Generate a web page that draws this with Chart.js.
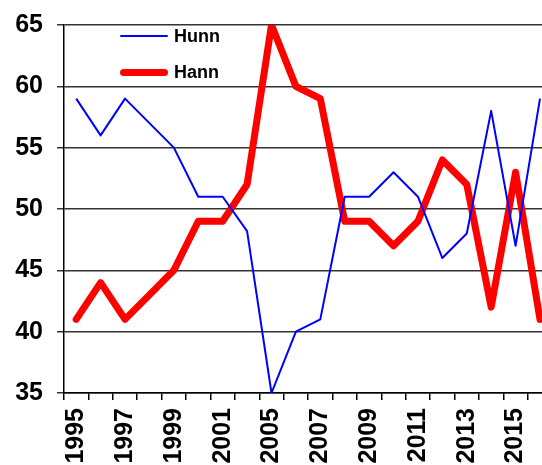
<!DOCTYPE html>
<html>
<head>
<meta charset="utf-8">
<script src="https://cdn.jsdelivr.net/npm/chart.js@4"></script>
<style>
  html, body { margin: 0; padding: 0; overflow: hidden; background: #fff; width: 542px; height: 465px; }
  #wrap { position: relative; width: 578px; height: 480px; }
  #legend { position: absolute; left: 0; top: 0; font-family: "Liberation Sans", Arial, sans-serif; font-weight: bold; font-size: 18px; color: #000; }
  .item { position: absolute; display: flex; align-items: center; white-space: nowrap; }
  .sw { display: inline-block; width: 48px; margin-right: 6px; }
</style>
</head>
<body>
<div id="wrap">
  <canvas id="c"></canvas>
  <div id="legend"></div>
</div>
<script>
const categories = ["1995","1996","1997","1998","1999","2000","2001","2003","2005","2006","2007","2008","2009","2010","2011","2012","2013","2014","2015","2016"];
const hunnValues = [59, 56, 59, 57, 55, 51, 51, 48.2, 35, 40, 41, 51, 51, 53, 51, 46, 48, 58, 47, 59];
const hannValues = [41, 44, 41, 43, 45, 49, 49, 52, 65, 60, 59, 49, 49, 47, 49, 54, 52, 42, 53, 41];
const seriesLabels = ["Hunn", "Hann"];
const yTicks = [35, 40, 45, 50, 55, 60, 65];

const FONT = "'Liberation Sans', Arial, sans-serif";

const chart = new Chart(document.getElementById('c'), {
  type: 'line',
  data: {
    labels: categories,
    datasets: [
      { label: seriesLabels[0], data: hunnValues, borderColor: '#0000FF', borderWidth: 2, pointRadius: 0, tension: 0, fill: false, borderJoinStyle: 'round' },
      { label: seriesLabels[1], data: hannValues, borderColor: '#FF0000', borderWidth: 7, pointRadius: 0, tension: 0, fill: false, borderJoinStyle: 'round', borderCapStyle: 'round' }
    ]
  },
  options: {
    responsive: true,
    maintainAspectRatio: false,
    animation: false,
    layout: { padding: { top: 25, right: 0, bottom: 0, left: 0 } },
    plugins: { legend: { display: false }, tooltip: { enabled: false } },
    scales: {
      x: {
        offset: true,
        grid: { display: true, offset: true, drawOnChartArea: false, drawTicks: true, tickLength: 7, color: '#000', lineWidth: 1.5 },
        border: { display: true, color: '#000', width: 1.5 },
        ticks: {
          autoSkip: false, maxRotation: 90, minRotation: 90, padding: 8, color: '#000',
          font: { family: FONT, size: 25, weight: 'bold' },
          callback: function(v, i) { return i % 2 === 0 ? categories[i] : ''; }
        },
        afterFit: function(s) { s.height = 87; }
      },
      y: {
        min: yTicks[0], max: yTicks[yTicks.length - 1],
        afterBuildTicks: function(s) { s.ticks = yTicks.map(v => ({ value: v })); },
        grid: { color: '#333', lineWidth: 1.5, tickLength: 7, drawTicks: true },
        border: { display: true, color: '#000', width: 1.5 },
        ticks: { padding: 14, color: '#000', font: { family: FONT, size: 25, weight: 'bold' } },
        afterFit: function(s) { s.width = 64; s.paddingTop = 0; s.paddingBottom = 0; }
      }
    }
  }
});

// HTML legend inside plot area
const legend = document.getElementById('legend');
const legendPos = [{ top: 36 }, { top: 72 }];
chart.data.datasets.forEach((ds, i) => {
  const it = document.createElement('div');
  it.className = 'item';
  it.style.left = '120px';
  it.style.top = (legendPos[i].top - 12) + 'px';
  it.style.height = '24px';
  const sw = document.createElement('span');
  sw.className = 'sw';
  sw.style.height = ds.borderWidth + 'px';
  sw.style.background = ds.borderColor;
  sw.style.borderRadius = (ds.borderWidth / 2) + 'px';
  const tx = document.createElement('span');
  tx.textContent = ds.label;
  it.appendChild(sw);
  it.appendChild(tx);
  legend.appendChild(it);
});
</script>
</body>
</html>
